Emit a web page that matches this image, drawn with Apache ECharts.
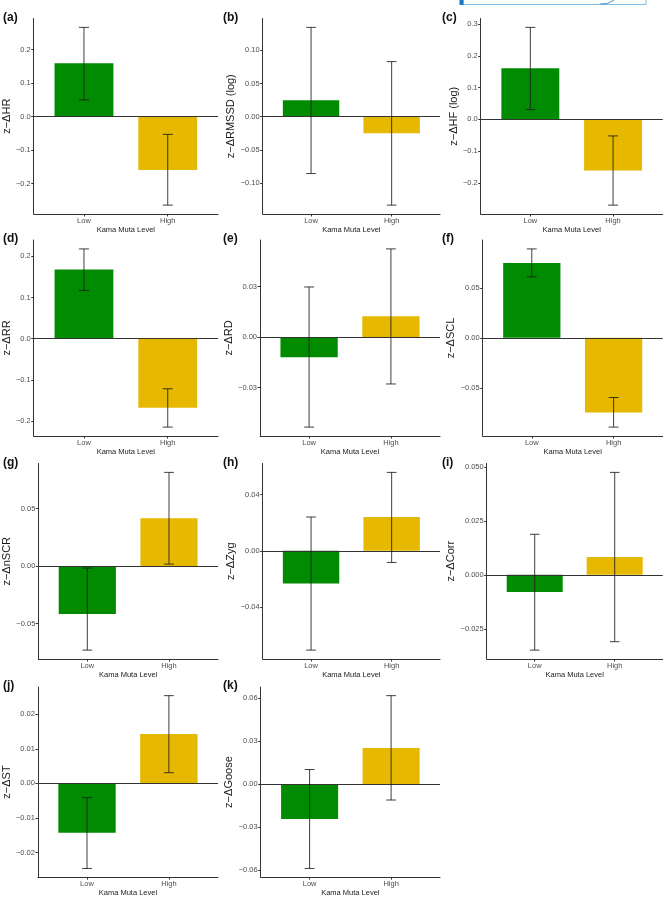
<!DOCTYPE html>
<html>
<head>
<meta charset="utf-8">
<title>Kama Muta Level – physiological responses</title>
<script src="https://cdn.jsdelivr.net/npm/echarts@6/dist/echarts.min.js"></script>
<style>
  html, body { margin: 0; padding: 0; background: #fff; }
  #chart { width: 665px; height: 898px; }
</style>
</head>
<body>
<div id="chart"></div>
<script>
// data, one entry per panel (a)..(k)
const categories = ['Low', 'High'];
const panelTags = ['(a)', '(b)', '(c)', '(d)', '(e)', '(f)', '(g)', '(h)', '(i)', '(j)', '(k)'];
const yTitles = ['z−ΔHR', 'z−ΔRMSSD (log)', 'z−ΔHF (log)', 'z−ΔRR', 'z−ΔRD', 'z−ΔSCL',
  'z−ΔnSCR', 'z−ΔZyg', 'z−ΔCorr', 'z−ΔST', 'z−ΔGoose'];

const lowMeans = [0.159, 0.025, 0.161, 0.168, -0.0121, 0.0748, -0.0416, -0.0234, -0.0080, -0.0143, -0.0244];
const highMeans = [-0.159, -0.025, -0.161, -0.168, 0.0123, -0.0747, 0.0416, 0.0241, 0.0083, 0.0143, 0.0253];
const lowLower = [0.050, -0.0855, 0.031, 0.117, -0.0535, 0.061, -0.0731, -0.0708, -0.0349, -0.0246, -0.0589];
const lowUpper = [0.266, 0.1345, 0.290, 0.218, 0.0297, 0.089, -0.0017, 0.0241, 0.0188, -0.0041, 0.0102];
const highLower = [-0.264, -0.133, -0.270, -0.215, -0.0279, -0.0893, 0.0017, -0.0083, -0.031, 0.0031, -0.0111];
const highUpper = [-0.053, 0.083, -0.052, -0.122, 0.0523, -0.0597, 0.0815, 0.0559, 0.0475, 0.0254, 0.0618];

const yTickLabels = [
  ['−0.2', '−0.1', '0.0', '0.1', '0.2'],
  ['−0.10', '−0.05', '0.00', '0.05', '0.10'],
  ['−0.2', '−0.1', '0.0', '0.1', '0.2', '0.3'],
  ['−0.2', '−0.1', '0.0', '0.1', '0.2'],
  ['−0.03', '0.00', '0.03'],
  ['−0.05', '0.00', '0.05'],
  ['−0.05', '0.00', '0.05'],
  ['−0.04', '0.00', '0.04'],
  ['−0.025', '0.000', '0.025', '0.050'],
  ['−0.02', '−0.01', '0.00', '0.01', '0.02'],
  ['−0.06', '−0.03', '0.00', '0.03', '0.06'],
];

const xLabel = 'Kama Muta Level';
const colors = ['#008B00', '#E7B800'];

// layout (px)
const colRight = [218, 440, 662.7];
const colTitleEdge = [15, 238.5, 460.5];
const colTagX = [3, 223, 442];
const plotLeft = [33, 262.7, 480.7, 33.3, 260, 482.7, 38.3, 262.7, 486.7, 37.7, 260.7];
const rowTop = [18.5, 240, 463.5, 687];
const rowBottom = [214, 436, 659, 882];

const FONT = '"Liberation Sans", Arial, Helvetica, sans-serif';
const X_MIN = 0.4, X_MAX = 2.6, BAR_UNITS = 0.7, CAP_HALF = 0.06;

const grids = [], xAxes = [], yAxes = [], series = [], graphics = [];

panelTags.forEach((tag, i) => {
  const col = i % 3, row = Math.floor(i / 3);
  const left = plotLeft[i];
  const width = colRight[col] - left;
  const top = rowTop[row];
  const height = rowBottom[row] - top;

  const lo = Math.min(0, lowLower[i], highLower[i], lowMeans[i], highMeans[i]);
  const hi = Math.max(0, lowUpper[i], highUpper[i], lowMeans[i], highMeans[i]);
  const pad = (hi - lo) * 0.05;

  grids.push({ left, top, width, height });

  xAxes.push({
    type: 'value', gridIndex: i, min: X_MIN, max: X_MAX,
    name: xLabel, nameLocation: 'middle', nameGap: 11.5,
    nameTextStyle: { fontFamily: FONT, fontSize: 7.5, color: '#1a1a1a' },
    splitLine: { show: false },
    axisLine: { onZero: false, lineStyle: { color: '#333', width: 1 } },
    axisTick: { customValues: [1, 2], length: 2.5, lineStyle: { color: '#333' } },
    axisLabel: {
      customValues: [1, 2], margin: 3, fontFamily: FONT, fontSize: 7.5, color: '#4d4d4d',
      formatter: (v) => categories[Math.round(v) - 1] || '',
    },
  });

  const tickValues = yTickLabels[i].map((s) => parseFloat(s.replace('−', '-')));
  yAxes.push({
    type: 'value', gridIndex: i, min: lo - pad, max: hi + pad,
    name: yTitles[i], nameLocation: 'middle', nameGap: left - colTitleEdge[col],
    nameTextStyle: { fontFamily: FONT, fontSize: 11, color: '#1a1a1a' },
    splitLine: { show: false },
    axisLine: { show: true, onZero: false, lineStyle: { color: '#333', width: 1 } },
    axisTick: { customValues: tickValues, length: 2.5, lineStyle: { color: '#333' } },
    axisLabel: {
      customValues: tickValues, margin: 3, fontFamily: FONT, fontSize: 7.5, color: '#4d4d4d',
      formatter: (v) => {
        const k = tickValues.findIndex((t) => Math.abs(t - v) < 1e-9);
        return k >= 0 ? yTickLabels[i][k] : '';
      },
    },
  });

  series.push({
    type: 'bar', xAxisIndex: i, yAxisIndex: i,
    barWidth: BAR_UNITS * width / (X_MAX - X_MIN),
    data: [
      { value: [1, lowMeans[i]], itemStyle: { color: colors[0] } },
      { value: [2, highMeans[i]], itemStyle: { color: colors[1] } },
    ],
    silent: true,
    markLine: {
      silent: true, symbol: 'none', label: { show: false },
      lineStyle: { color: '#333', width: 1, type: 'solid' },
      data: [{ yAxis: 0 }],
    },
  });

  series.push({
    type: 'custom', xAxisIndex: i, yAxisIndex: i, silent: true, z: 5,
    data: [[1, lowLower[i], lowUpper[i]], [2, highLower[i], highUpper[i]]],
    encode: { x: 0, y: [1, 2] },
    renderItem: (params, api) => {
      const x = api.value(0);
      const pLo = api.coord([x, api.value(1)]);
      const pHi = api.coord([x, api.value(2)]);
      const xl = api.coord([x - CAP_HALF, 0])[0];
      const xr = api.coord([x + CAP_HALF, 0])[0];
      const style = { stroke: 'rgba(30,30,30,0.85)', lineWidth: 1 };
      return {
        type: 'group',
        children: [
          { type: 'line', shape: { x1: pLo[0], y1: pLo[1], x2: pHi[0], y2: pHi[1] }, style },
          { type: 'line', shape: { x1: xl, y1: pLo[1], x2: xr, y2: pLo[1] }, style },
          { type: 'line', shape: { x1: xl, y1: pHi[1], x2: xr, y2: pHi[1] }, style },
        ],
      };
    },
  });

  graphics.push({
    type: 'text', x: colTagX[col], y: top - 1,
    style: { text: tag, font: 'bold 12px ' + FONT, fill: '#111', textVerticalAlign: 'middle' },
  });
});

// strip of a journal banner cropped at the top right
graphics.push({
  type: 'rect',
  shape: { x: 463, y: -3, width: 183, height: 7.5 },
  style: { fill: '#fff', stroke: '#7dbde6', lineWidth: 1 },
});
graphics.push({
  type: 'rect',
  shape: { x: 459.5, y: 0, width: 4, height: 5 },
  style: { fill: '#1b78c2' },
});
graphics.push({
  type: 'bezierCurve',
  shape: { x1: 600, y1: 4, cpx1: 608, cpy1: 5, x2: 614, y2: 0 },
  style: { fill: 'none', stroke: '#4c8ec4', lineWidth: 1 },
});

const chart = echarts.init(document.getElementById('chart'), null, { renderer: 'canvas' });
chart.setOption({
  animation: false,
  backgroundColor: '#fff',
  grid: grids,
  xAxis: xAxes,
  yAxis: yAxes,
  series,
  graphic: graphics,
});
</script>
</body>
</html>
